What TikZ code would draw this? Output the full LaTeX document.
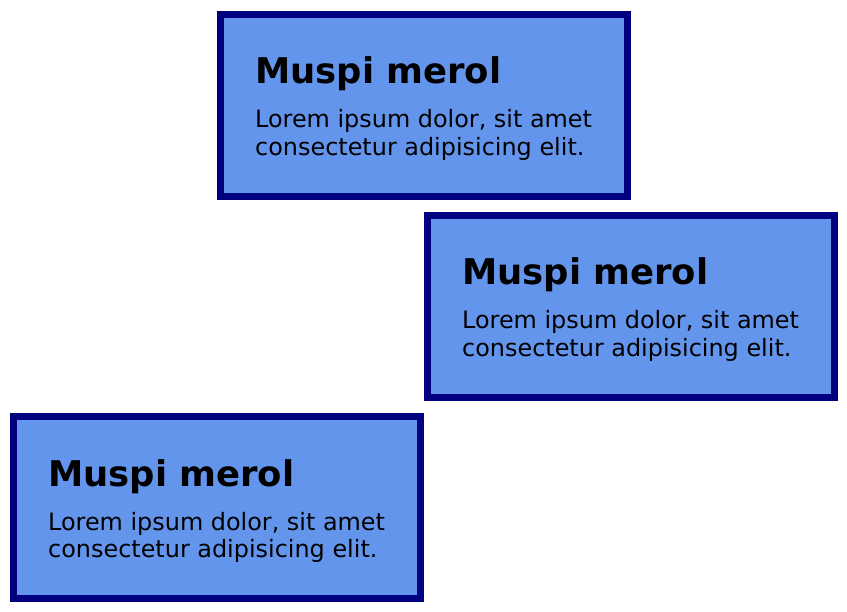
\documentclass[tikz,border=0pt]{standalone}
\usepackage{fontspec}
\setmainfont{DejaVu Sans}
\usepackage{tikz}
\usetikzlibrary{positioning,calc}
\definecolor{cornflower}{HTML}{6495ED}
\definecolor{navyblue}{HTML}{000080}
\tikzset{
    card/.style={draw=navyblue, fill=cornflower, line width=7pt, minimum width=407pt, minimum height=182pt, inner sep=0pt},
    cardtitle/.style={anchor=base west, inner sep=0pt, font=\fontsize{35.4}{42}\selectfont\bfseries},
    cardtext/.style={anchor=base west, inner sep=0pt, align=left, font=\fontsize{23.9}{28}\selectfont}
}

\begin{document}
\begin{tikzpicture}[x=1pt,y=-1pt]
                    \useasboundingbox (0,0) rectangle (847,612);
                    % top card
                    \node[card] (box1) at (424,105.5) {};
                    \node[cardtitle] (title1) at ($(box1.north west)+(38,73)$) {Muspi merol};
                    \node[cardtext] (text1) at ($(box1.north west)+(38,145)$) {Lorem ipsum dolor, sit amet\\consectetur adipisicing elit.};
                    % middle card
                    \node[card] (box2) at (631,306.5) {};
                    \node[cardtitle] (title2) at ($(box2.north west)+(38,73)$) {Muspi merol};
                    \node[cardtext] (text2) at ($(box2.north west)+(38,145)$) {Lorem ipsum dolor, sit amet\\consectetur adipisicing elit.};
                    % bottom card
                    \node[card] (box3) at (217,507.5) {};
                    \node[cardtitle] (title3) at ($(box3.north west)+(38,73)$) {Muspi merol};
                    \node[cardtext] (text3) at ($(box3.north west)+(38,145)$) {Lorem ipsum dolor, sit amet\\consectetur adipisicing elit.};
                \end{tikzpicture}
\end{document}
